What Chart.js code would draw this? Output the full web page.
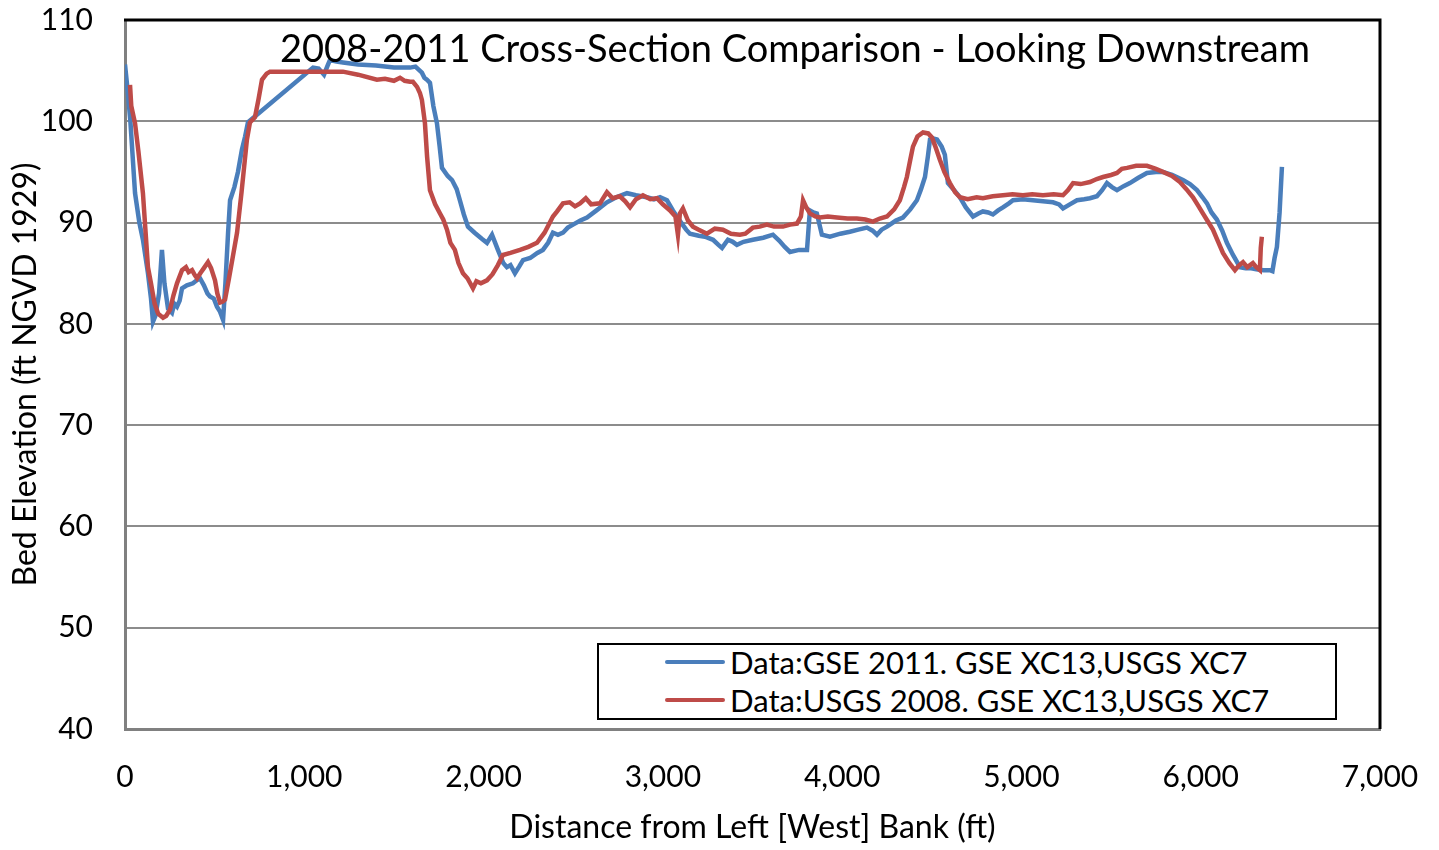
<!DOCTYPE html>
<html lang="en">
<head>
    <meta charset="UTF-8">
    <title>Cross-Section Comparison</title>
    <script src="https://cdn.jsdelivr.net/npm/chart.js"></script>
    <style>
        body { margin: 0; background: #fff; }
        #wrap { position: relative; width: 1439px; height: 850px; }
        #titulo {
            position: absolute; left: 795px; top: 28px; transform: translateX(-50%);
            font-family: Lato, sans-serif; font-size: 38px; line-height: 38px;
            white-space: nowrap; color: #000;
        }
        #legenda {
            position: absolute; left: 597px; top: 643px; width: 736px; height: 73px;
            border: 2px solid #000; background: #fff;
            font-family: Lato, sans-serif; font-size: 31px; color: #000;
        }
        .item { position: absolute; left: 66px; height: 36px; display: flex; align-items: center; white-space: nowrap; }
        .item span.linha { display: inline-block; width: 60px; height: 4px; margin-right: 5px; border-radius: 2px; }
    </style>
</head>
<body>

<div id="wrap">
    <canvas id="grafico" width="1439" height="850"></canvas>
    <div id="titulo">2008-2011 Cross-Section Comparison - Looking Downstream</div>
    <div id="legenda"></div>
</div>

<script>
    // GSE 2011 survey
    const dist2011 = [0, 15, 30, 56, 80, 100, 128, 145, 156, 170, 190, 206, 220, 240, 262, 275, 290, 305, 318, 345,
        379, 400, 418, 440, 460, 474, 495, 513, 530, 547, 560, 575, 586, 610, 630, 652, 670, 686, 1049, 1080,
        1110, 1130, 1143, 1180, 1216, 1300, 1400, 1500, 1590, 1620, 1656, 1670, 1684, 1701, 1720, 1740, 1755, 1768, 1800, 1824,
        1850, 1868, 1890, 1913, 1950, 1990, 2019, 2047, 2080, 2110, 2130, 2150, 2175, 2200, 2220, 2260, 2300, 2331, 2360, 2387,
        2415, 2443, 2470, 2499, 2540, 2577, 2630, 2688, 2740, 2800, 2850, 2911, 2950, 2984, 3023, 3056, 3090, 3106, 3130, 3151,
        3200, 3235, 3280, 3310, 3330, 3363, 3390, 3413, 3450, 3502, 3560, 3614, 3650, 3680, 3709, 3760, 3804, 3820, 3840, 3859,
        3887, 3932, 3990, 4043, 4090, 4138, 4170, 4194, 4220, 4250, 4300, 4339, 4380, 4417, 4440, 4462, 4478, 4490, 4510, 4529,
        4555, 4573, 4590, 4620, 4657, 4690, 4730, 4760, 4785, 4815, 4841, 4870, 4897, 4930, 4953, 5008, 5064, 5120, 5176, 5210,
        5232, 5270, 5310, 5350, 5382, 5421, 5450, 5477, 5505, 5533, 5570, 5605, 5650, 5700, 5750, 5789, 5840, 5901, 5940, 5979,
        6010, 6035, 6060, 6090, 6120, 6146, 6180, 6219, 6250, 6274, 6310, 6350, 6386, 6400, 6412, 6425, 6440, 6453];
    const elev2011 = [105.6, 103, 100, 92.9, 90, 88.3, 85, 82.5, 80.2, 80.8, 83, 87.3, 84, 81.5, 81.1, 82, 81.7, 82.3, 83.5, 83.8,
        84.0, 84.3, 84.5, 83.8, 83.0, 82.7, 82.5, 81.7, 81.2, 80.4, 84, 89, 92.2, 93.5, 95, 97.2, 98.5, 99.9, 105.3, 105.2,
        104.6, 105.5, 106.05, 105.9, 105.8, 105.6, 105.5, 105.3, 105.3, 105.4, 104.8, 104.3, 104.1, 103.8, 101.5, 99.8, 97.5, 95.4, 94.6, 94.2,
        93.3, 92.2, 90.8, 89.6, 89.0, 88.4, 88.0, 88.8, 87.3, 86.0, 85.6, 85.8, 85.0, 85.7, 86.3, 86.5, 87.0, 87.3, 88.0, 89.0,
        88.8, 89.0, 89.5, 89.8, 90.2, 90.5, 91.2, 92.0, 92.5, 92.9, 92.7, 92.5, 92.3, 92.5, 92.2, 91.2, 90.3, 89.9, 89.3, 88.9,
        88.7, 88.6, 88.3, 87.8, 87.5, 88.3, 88.1, 87.8, 88.1, 88.3, 88.5, 88.8, 88.2, 87.6, 87.1, 87.3, 87.3, 91.2, 91.0, 90.9,
        88.8, 88.6, 88.9, 89.1, 89.3, 89.5, 89.2, 88.8, 89.3, 89.6, 90.2, 90.5, 91.3, 92.2, 93.3, 94.5, 96.5, 98.2, 98.3, 98.2,
        97.5, 96.7, 93.9, 93.3, 92.5, 91.5, 90.6, 90.9, 91.1, 91.0, 90.8, 91.2, 91.5, 91.9, 92.2, 92.3, 92.2, 92.1, 92.0, 91.8,
        91.4, 91.8, 92.2, 92.3, 92.4, 92.6, 93.2, 93.9, 93.5, 93.2, 93.6, 93.9, 94.4, 94.9, 95.0, 95.0, 94.7, 94.2, 93.8, 93.2,
        92.5, 91.9, 91.0, 90.3, 89.2, 88.0, 86.8, 85.6, 85.5, 85.5, 85.4, 85.3, 85.3, 85.2, 86.5, 87.6, 91, 95.5];

    // USGS 2008 survey
    const dist2008 = [28, 35, 56, 75, 100, 115, 128, 145, 165, 185, 212, 230, 251, 270, 290, 318, 340, 355, 374, 390,
        402, 420, 440, 463, 480, 502, 515, 530, 545, 558, 580, 600, 625, 650, 680, 697, 725, 745, 764, 790,
        809, 900, 1000, 1100, 1216, 1300, 1405, 1450, 1500, 1534, 1560, 1590, 1606, 1629, 1645, 1656, 1673, 1685, 1701, 1730,
        1757, 1775, 1796, 1815, 1840, 1860, 1885, 1910, 1941, 1960, 1985, 2019, 2050, 2080, 2108, 2150, 2203, 2250, 2298, 2340,
        2387, 2410, 2443, 2480, 2510, 2538, 2570, 2600, 2649, 2688, 2720, 2760, 2790, 2817, 2850, 2889, 2930, 2967, 3000, 3040,
        3070, 3084, 3095, 3112, 3140, 3168, 3200, 3246, 3290, 3335, 3380, 3430, 3460, 3502, 3540, 3580, 3620, 3670, 3710, 3748,
        3770, 3782, 3800, 3820, 3850, 3876, 3920, 3971, 4030, 4082, 4130, 4172, 4210, 4250, 4290, 4322, 4345, 4361, 4380, 4395,
        4420, 4451, 4480, 4501, 4520, 4545, 4570, 4601, 4630, 4657, 4700, 4750, 4785, 4840, 4897, 4950, 5008, 5060, 5120, 5180,
        5232, 5260, 5288, 5330, 5382, 5420, 5455, 5500, 5533, 5560, 5589, 5640, 5700, 5750, 5789, 5840, 5884, 5920, 5957, 5985,
        6012, 6040, 6068, 6095, 6124, 6160, 6191, 6210, 6236, 6260, 6291, 6310, 6330, 6335, 6341];
    const elev2008 = [103.6, 101.5, 99.8, 97, 92.9, 89, 85.6, 84, 82, 81.0, 80.6, 80.8, 81.4, 82.8, 84, 85.3, 85.6, 85.1, 85.3, 84.8,
        84.5, 85.0, 85.5, 86.1, 85.5, 84.3, 83, 82.1, 82.2, 82.4, 84.5, 86.5, 89.0, 93, 98.2, 99.9, 100.4, 102.2, 104.1, 104.7,
        104.9, 104.9, 104.9, 104.9, 104.9, 104.6, 104.1, 104.2, 104.0, 104.3, 104.0, 103.9, 103.9, 103.4, 102.8, 102.1, 99.8, 96.5, 93.2, 91.8,
        90.9, 90.3, 89.3, 88.0, 87.3, 86.0, 85.0, 84.5, 83.5, 84.2, 84.0, 84.3, 84.9, 85.8, 86.8, 87.0, 87.3, 87.6, 88.0, 89.0,
        90.6, 91.1, 91.9, 92.0, 91.6, 91.9, 92.4, 91.8, 91.9, 93.0, 92.4, 92.6, 92.1, 91.5, 92.3, 92.7, 92.3, 92.4, 91.8, 91.2,
        90.6, 88.8, 90.9, 91.4, 90.2, 89.6, 89.3, 88.9, 89.4, 89.3, 88.9, 88.8, 88.9, 89.5, 89.6, 89.8, 89.6, 89.6, 89.8, 89.9,
        90.6, 92.2, 91.5, 90.9, 90.6, 90.5, 90.6, 90.5, 90.4, 90.4, 90.3, 90.1, 90.4, 90.6, 91.3, 92.2, 93.5, 94.5, 96.2, 97.5,
        98.5, 98.9, 98.8, 98.4, 97.5, 96.2, 95.0, 93.9, 93.0, 92.5, 92.3, 92.5, 92.4, 92.6, 92.7, 92.8, 92.7, 92.8, 92.7, 92.8,
        92.7, 93.2, 93.9, 93.8, 94.0, 94.3, 94.5, 94.7, 94.9, 95.3, 95.4, 95.6, 95.6, 95.3, 95.0, 94.6, 94.0, 93.3, 92.5, 91.7,
        90.9, 90.1, 89.3, 88.2, 87.0, 86.0, 85.3, 85.7, 86.1, 85.6, 86.0, 85.6, 85.3, 87.5, 88.6];

    const nomes = ['Data:GSE 2011. GSE XC13,USGS XC7', 'Data:USGS 2008. GSE XC13,USGS XC7'];
    const cores = ['#4a7ebb', '#be4b48'];

    const fonte = 'Lato, sans-serif';

    // borda preta em cima e na direita da area do grafico
    const moldura = {
        id: 'moldura',
        afterDatasetsDraw(chart) {
            const a = chart.chartArea;
            const ctx = chart.ctx;
            ctx.save();
            ctx.strokeStyle = '#000';
            ctx.lineWidth = 3;
            ctx.beginPath();
            ctx.moveTo(a.left - 1, a.top);
            ctx.lineTo(a.right, a.top);
            ctx.lineTo(a.right, a.bottom);
            ctx.stroke();
            ctx.restore();
        }
    };

    // tira o espaco extra que o chart.js reserva para os rotulos das pontas
    function semPadding(s) {
        s.paddingTop = 0;
        s.paddingBottom = 0;
        s.paddingLeft = 0;
        s.paddingRight = 0;
    }

    const ctx = document.getElementById('grafico').getContext('2d');
    const grafico = new Chart(ctx, {
        type: 'line',
        data: {
            datasets: [{
                label: nomes[0],
                data: dist2011.map((d, i) => ({ x: d, y: elev2011[i] })),
                borderColor: cores[0],
                borderWidth: 4.5,
                pointRadius: 0,
                tension: 0,
                order: 1
            }, {
                label: nomes[1],
                data: dist2008.map((d, i) => ({ x: d, y: elev2008[i] })),
                borderColor: cores[1],
                borderWidth: 4.5,
                pointRadius: 0,
                tension: 0,
                order: 0
            }]
        },
        options: {
            responsive: false,
            animation: false,
            layout: { padding: { top: 20, right: 59, left: 0, bottom: 0 } },
            plugins: {
                legend: { display: false },
                tooltip: { enabled: false }
            },
            scales: {
                x: {
                    type: 'linear',
                    min: 0,
                    max: 7000,
                    afterFit: (s) => { s.height = 121; semPadding(s); },
                    ticks: {
                        stepSize: 1000,
                        padding: 30,
                        color: '#000',
                        font: { family: fonte, size: 30 },
                        callback: (v) => v.toLocaleString('en-US')
                    },
                    grid: { display: false, drawTicks: false },
                    border: { color: '#808080', width: 3 },
                    title: {
                        display: true,
                        text: 'Distance from Left [West] Bank (ft)',
                        color: '#000',
                        font: { family: fonte, size: 32 },
                        padding: { top: 0, bottom: 3 }
                    }
                },
                y: {
                    min: 40,
                    max: 110,
                    afterFit: (s) => { s.width = 125; semPadding(s); },
                    ticks: {
                        stepSize: 10,
                        padding: 32,
                        color: '#000',
                        font: { family: fonte, size: 30 }
                    },
                    grid: { color: '#8c8c8c', lineWidth: 2, drawTicks: false },
                    border: { color: '#808080', width: 3 },
                    title: {
                        display: true,
                        text: 'Bed Elevation (ft NGVD 1929)',
                        color: '#000',
                        font: { family: fonte, size: 32 },
                        padding: { top: 6, bottom: 0 }
                    }
                }
            }
        },
        plugins: [moldura]
    });

    // legenda dentro da area do grafico
    const legenda = document.getElementById('legenda');
    grafico.data.datasets.forEach((ds, i) => {
        const item = document.createElement('div');
        item.className = 'item';
        item.style.top = (i === 0 ? -1 : 37) + 'px';
        item.innerHTML = '<span class="linha" style="background:' + ds.borderColor + '"></span>' + ds.label;
        legenda.appendChild(item);
    });
</script>
</body>
</html>
